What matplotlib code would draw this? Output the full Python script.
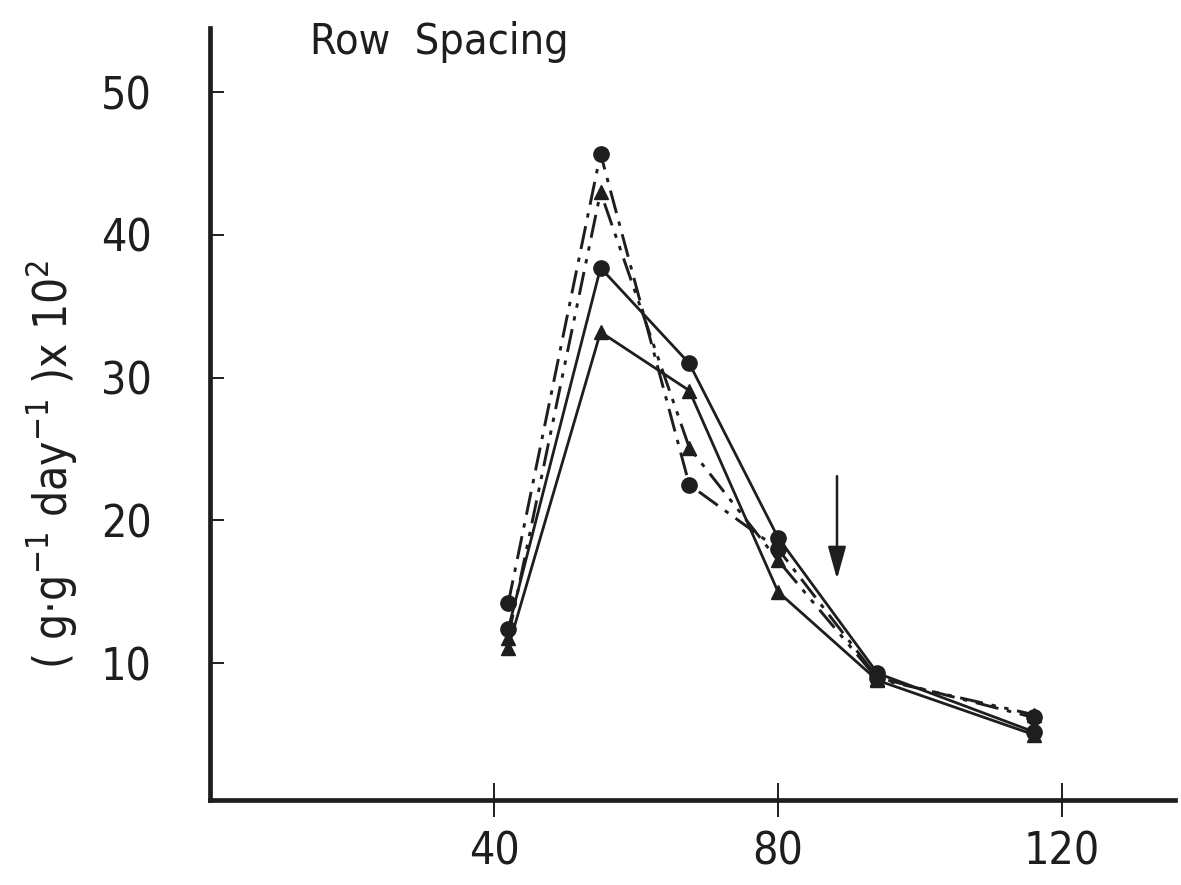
import numpy as np
import matplotlib
matplotlib.use("Agg")
import matplotlib.pyplot as plt

# days after sowing
days = [42, 55, 67.5, 80, 94, 116]

# relative growth rate (g g-1 day-1) x 10^2, four treatments
rgr_solid_circle = [12.4, 37.7, 31.0, 18.8, 9.3, 5.2]
rgr_solid_tri = [11.1, 33.2, 29.1, 15.0, 8.8, 5.0]
rgr_dash_circle = [14.2, 45.7, 22.5, 18.0, 9.0, 6.2]
rgr_dash_tri = [11.8, 43.0, 25.1, 17.2, 8.9, 6.4]

x_ticks = [40, 80, 120]
y_ticks = [10, 20, 30, 40, 50]

# arrow marking the event
arrow_x = 88.3
arrow_from, arrow_to = 23.3, 15.7

plt.rcParams['font.family'] = ['DejaVu Sans']
plt.rcParams['font.stretch'] = 'condensed'
ink = '#1e1e1e'

fig = plt.figure(figsize=(11.81, 8.85), dpi=100)
ax = fig.add_axes([210 / 1181, 1 - 800 / 885, 965 / 1181, 772 / 885])

dd = (0, (8, 3, 1.5, 3))
ddd = (0, (8, 3, 1.5, 3, 1.5, 3))

ax.plot(days, rgr_solid_circle, '-', marker='o', color=ink, lw=2.0, ms=11)
ax.plot(days, rgr_solid_tri, '-', marker='^', color=ink, lw=2.0, ms=10.5)
ax.plot(days, rgr_dash_circle, linestyle=dd, marker='o', color=ink, lw=2.1, ms=11)
ax.plot(days, rgr_dash_tri, linestyle=ddd, marker='^', color=ink, lw=2.1, ms=10.5)

ax.annotate('', xy=(arrow_x, arrow_to), xytext=(arrow_x, arrow_from),
            arrowprops=dict(arrowstyle='-|>,head_length=0.9,head_width=0.25',
                            color=ink, lw=1.8, mutation_scale=22))

ax.set_xlim(0, 135.9)
ax.set_ylim(0.42, 54.5)
ax.spines['top'].set_visible(False)
ax.spines['right'].set_visible(False)
for s in ['left', 'bottom']:
    ax.spines[s].set_linewidth(3.4)
    ax.spines[s].set_color(ink)

ax.set_xticks(x_ticks)
ax.set_yticks(y_ticks)
ax.tick_params(axis='x', direction='inout', length=24, width=1.4, colors=ink,
               labelsize=32, pad=10)
ax.tick_params(axis='y', direction='in', length=10, width=1.4, colors=ink,
               labelsize=32, pad=42)

fig.text(0.043, 0.475, r'( g$\cdot$g$^{-1}$ day$^{-1}$ )x 10$^2$', rotation=90,
         ha='center', va='center', fontsize=33, color=ink)
fig.text(310 / 1181, 1 - 42 / 885, 'Row  Spacing', ha='left', va='center',
         fontsize=31, color=ink)

fig.savefig('out.png', dpi=100)
